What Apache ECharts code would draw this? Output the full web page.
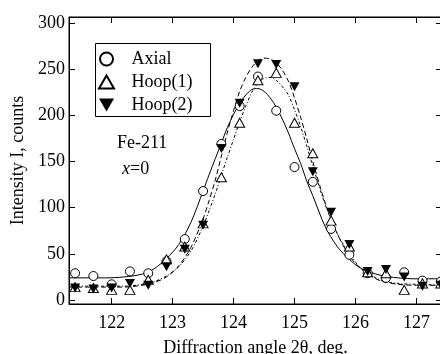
<!DOCTYPE html>
<html>
<head>
<meta charset="utf-8">
<script src="https://cdn.jsdelivr.net/npm/echarts@6/dist/echarts.min.js"></script>
<style>
  html, body { margin: 0; padding: 0; background: #fff; }
  #chart { width: 440px; height: 354px; }
</style>
</head>
<body>
<div id="chart"></div>
<script>
// measured points (2theta, deg.)
var angles = [121.4, 121.7, 122.0, 122.3, 122.6, 122.9, 123.2, 123.5, 123.8, 124.1, 124.4,
              124.7, 125.0, 125.3, 125.6, 125.9, 126.2, 126.5, 126.8, 127.1, 127.4];
var axial = [29, 26, 17, 31, 29, 42, 66, 118, 169, 210, 242, 205, 144, 128, 77, 49, 29, 24, 30, 21, 20];
var hoop1 = [14, 13, 11, 11, 22, 44, 58, 83, 133, 192, 238, 246, 192, 159, 86, 58, 30, 29, 11, 18, 18];
var hoop2 = [13, 12, 13, 18, 16, 36, 55, 81, 164, 213, 256, 255, 231, 139, 95, 60, 31, 33, 25, 15, 16];

// fitted curves
var fitX = [121.3, 121.6, 121.9, 122.2, 122.5, 122.7, 122.9, 123.1, 123.3, 123.5, 123.6, 123.7, 123.8,
            123.9, 124.0, 124.1, 124.2, 124.3, 124.4, 124.5, 124.6, 124.7, 124.8, 124.9, 125.0, 125.1,
            125.2, 125.3, 125.5, 125.7, 125.9, 126.1, 126.4, 126.7, 127.0, 127.45];
var axialFit = [24, 24, 24, 25, 28, 34, 45, 60, 84, 118, 136, 153, 170, 187, 201, 213, 222, 228, 229, 226,
                219, 209, 196, 181, 164, 148, 129, 113, 80, 58, 44, 34, 27, 24, 23, 23];
var hoop1Fit = [15, 15, 15, 15, 17, 20, 26, 36, 53, 80, 97, 115, 135, 155, 174, 193, 210, 225, 235, 240,
                241, 238, 231, 222, 206, 188, 167, 145, 104, 72, 50, 34, 22, 18, 17, 16];
var hoop2Fit = [14, 14, 14, 14, 16, 19, 25, 37, 57, 88, 108, 130, 156, 182, 205, 226, 241, 252, 259, 262,
                261, 257, 249, 237, 219, 198, 175, 150, 106, 72, 48, 33, 21, 17, 16, 16];

var xTicks = [122, 123, 124, 125, 126, 127];
var yTicks = [0, 50, 100, 150, 200, 250, 300];

var font = "'Liberation Serif', 'Times New Roman', serif";
var upTri = 'path://M5,0 L10,8.66 L0,8.66 Z';
var downTri = 'path://M0,0 L10,0 L5,8.66 Z';

function pairs(xs, ys) {
    var out = [];
    for (var i = 0; i < xs.length; i++) {
        out.push([xs[i], ys[i]]);
    }
    return out;
}

var myChart = echarts.init(document.getElementById('chart'), null, {renderer: 'canvas'});

var axisCommon = {
    type: 'value',
    show: true,
    gridIndex: 0,
    axisLine: {show: true, onZero: false, lineStyle: {color: '#000', width: 1}},
    splitLine: {show: false}
};

var option = {
    backgroundColor: '#fff',
    animation: false,
    textStyle: {fontFamily: font},
    grid: {
        left: 69, right: -2, top: 17, bottom: 50,
        outerBoundsMode: 'none',
        containLabel: false,
        show: true, borderColor: '#000', borderWidth: 1, backgroundColor: 'transparent'
    },
    legend: {
        orient: 'vertical',
        left: 95,
        top: 45,
        padding: [5, 5, 4, 3],
        itemGap: 5,
        itemWidth: 40,
        itemHeight: 13,
        textStyle: {fontFamily: font, fontSize: 18, color: '#000'},
        data: ['Axial', 'Hoop(1)', 'Hoop(2)']
    },
    xAxis: [
        Object.assign({}, axisCommon, {
            min: 121.3, max: 127.42,
            position: 'bottom',
            axisTick: {inside: true, length: 6, customValues: xTicks, lineStyle: {color: '#000'}},
            axisLabel: {customValues: xTicks, color: '#000', fontFamily: font, fontSize: 18, margin: 10},
            name: 'Diffraction angle 2\u03b8, deg.',
            nameLocation: 'middle',
            nameGap: 35,
            nameTextStyle: {color: '#000', fontFamily: font, fontSize: 18}
        }),
        Object.assign({}, axisCommon, {
            min: 121.3, max: 127.42,
            position: 'top',
            axisTick: {inside: true, length: 6, customValues: xTicks, lineStyle: {color: '#000'}},
            axisLabel: {show: false, customValues: xTicks}
        })
    ],
    yAxis: [
        Object.assign({}, axisCommon, {
            min: -4.3, max: 306.5,
            position: 'left',
            axisTick: {inside: true, length: 6, customValues: yTicks, lineStyle: {color: '#000'}},
            axisLabel: {customValues: yTicks, color: '#000', fontFamily: font, fontSize: 18, margin: 4},
            name: 'Intensity I, counts',
            nameLocation: 'middle',
            nameGap: 33,
            nameTextStyle: {color: '#000', fontFamily: font, fontSize: 18}
        }),
        Object.assign({}, axisCommon, {
            min: -4.3, max: 306.5,
            position: 'right',
            axisTick: {inside: true, length: 6, customValues: yTicks, lineStyle: {color: '#000'}},
            axisLabel: {show: false, customValues: yTicks}
        })
    ],
    graphic: [
        {
            type: 'rect', z: 100,
            shape: {x: 95.5, y: 43.5, width: 115, height: 73},
            style: {fill: null, stroke: '#000', lineWidth: 1}
        },
        {
            type: 'text', left: 117, top: 134,
            style: {text: 'Fe-211', fill: '#000', font: '18px ' + font}
        },
        {
            type: 'text', left: 122, top: 160,
            style: {
                text: '{i|x}=0',
                fill: '#000',
                font: '18px ' + font,
                rich: {i: {fontStyle: 'italic', fontFamily: font, fontSize: 18, fill: '#000'}}
            }
        }
    ],
    series: [
        {
            name: 'AxialFit', type: 'line', smooth: 0.3, symbol: 'none', silent: true,
            lineStyle: {color: '#000', width: 1},
            data: pairs(fitX, axialFit), z: 2
        },
        {
            name: 'Hoop1Fit', type: 'line', smooth: 0.3, symbol: 'none', silent: true,
            lineStyle: {color: '#000', width: 1, type: [3, 2, 1, 2]},
            data: pairs(fitX, hoop1Fit), z: 2
        },
        {
            name: 'Hoop2Fit', type: 'line', smooth: 0.3, symbol: 'none', silent: true,
            lineStyle: {color: '#000', width: 1, type: [5, 3]},
            data: pairs(fitX, hoop2Fit), z: 2
        },
        {
            name: 'Axial', type: 'scatter', symbol: 'circle', symbolSize: 9,
            itemStyle: {color: '#fff', borderColor: '#000', borderWidth: 1, opacity: 1},
            data: pairs(angles, axial), z: 3
        },
        {
            name: 'Hoop(1)', type: 'scatter', symbol: upTri, symbolSize: [10, 9],
            itemStyle: {color: '#fff', borderColor: '#000', borderWidth: 1, opacity: 1},
            data: pairs(angles, hoop1), z: 4
        },
        {
            name: 'Hoop(2)', type: 'scatter', symbol: downTri, symbolSize: [10, 9],
            itemStyle: {color: '#000', borderColor: '#000', borderWidth: 0, opacity: 1},
            data: pairs(angles, hoop2), z: 5
        }
    ]
};

myChart.setOption(option);
</script>
</body>
</html>
